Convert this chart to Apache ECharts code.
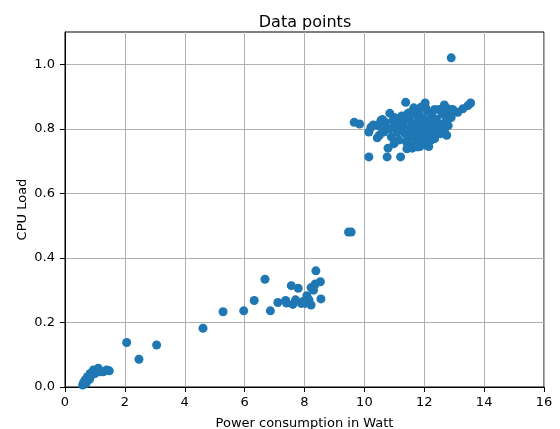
<!DOCTYPE html>
<html><head><meta charset="utf-8">
<script src="https://cdn.jsdelivr.net/npm/echarts@6/dist/echarts.min.js"></script>
<style>html,body{margin:0;padding:0;background:#fff}#c{width:560px;height:429px}</style>
</head><body><div id="c"></div>
<script>
const xTicks = [0, 2, 4, 6, 8, 10, 12, 14, 16];
const yTicks = [0.0, 0.2, 0.4, 0.6, 0.8, 1.0];
const lowCluster = [
  [0.59,0.006],[0.61,0.011],[0.67,0.022],[0.7,0.011],[0.72,0.017],[0.75,0.032],[0.78,0.028],
  [0.84,0.042],[0.88,0.036],[0.95,0.053],[1.0,0.042],[1.11,0.058],[1.17,0.047],[1.28,0.047],
  [1.39,0.053],[1.48,0.05],[0.64,0.016],[0.82,0.024],[2.06,0.138],[2.47,0.086],[3.06,0.13]
];
const midCluster = [
  [4.61,0.182],[5.28,0.233],[5.97,0.236],[6.32,0.268],[6.68,0.334],[6.86,0.236],
  [7.11,0.262],[7.37,0.268],[7.56,0.314],[7.79,0.306],[7.61,0.256],[7.89,0.259],
  [8.08,0.283],[8.22,0.308],[8.36,0.319],[8.38,0.36],[8.53,0.326],[8.55,0.273],
  [8.22,0.254],[8.02,0.259],[7.4,0.26],[8.3,0.3],[7.7,0.27],[8.15,0.27],[7.95,0.265],
  [9.47,0.48],[9.56,0.48]
];
const highCluster = [
  [12.9,1.02],[9.66,0.82],[9.84,0.815],[10.15,0.713],[10.76,0.713],[10.79,0.74],[11.21,0.713],
  [11.42,0.738],[11.38,0.882],[12.03,0.88],[12.67,0.874],[12.79,0.862],[13.55,0.88],[13.46,0.872],
  [13.29,0.862],[13.12,0.851],[10.85,0.848],[10.6,0.829],[10.22,0.805],[10.15,0.79],[10.43,0.772],
  [10.99,0.754],[10.3,0.812],[10.45,0.81],[10.55,0.825],[10.65,0.79],[10.7,0.82],[10.85,0.8],
  [10.9,0.775],[11.0,0.835],[11.05,0.81],[11.1,0.79],[11.15,0.765],[11.2,0.8],[11.3,0.82],
  [11.35,0.785],[11.4,0.76],[11.45,0.8],[11.5,0.83],[11.55,0.775],[11.6,0.81],[11.65,0.79],
  [11.7,0.845],[11.7,0.755],[11.75,0.82],[11.8,0.8],[11.8,0.77],[11.85,0.84],[11.9,0.79],
  [11.9,0.76],[11.95,0.81],[12.0,0.83],[12.0,0.775],[12.05,0.75],[12.1,0.8],[12.1,0.855],
  [12.15,0.82],[12.2,0.785],[12.2,0.765],[12.25,0.84],[12.3,0.81],[12.3,0.795],[12.35,0.77],
  [12.4,0.83],[12.45,0.8],[12.5,0.815],[12.55,0.785],[12.6,0.845],[12.65,0.8],[12.7,0.82],
  [12.8,0.81],[11.5,0.85],[11.25,0.84],[10.95,0.825],[11.6,0.74],[11.45,0.75],[11.85,0.745],
  [11.78,0.744],[12.22,0.764],[12.67,0.795],[11.44,0.846],[11.89,0.867],[12.22,0.851],
  [12.15,0.745],[10.5,0.78],[10.6,0.8],[12.5,0.86],[12.35,0.86],[11.65,0.865],[12.05,0.865],
  [12.9,0.835],[12.75,0.78],[11.75,0.79],[11.55,0.805],[11.35,0.805],[11.1,0.82],[12.0,0.8],
  [12.2,0.81],[11.9,0.82],[11.7,0.78],[12.4,0.79],[12.6,0.795],[12.0,0.76],[11.8,0.85],
  [12.85,0.85],[12.75,0.84],[12.95,0.86],[12.8,0.83]
];
const allPoints = lowCluster.concat(midCluster, highCluster);

const chart = echarts.init(document.getElementById('c'), null, {renderer: 'canvas'});
const font = 'DejaVu Sans';
chart.setOption({
  animation: false,
  title: {text: 'Data points', left: 300, top: 10, textAlign: 'center',
    textStyle: {fontFamily: font, fontSize: 16, fontWeight: 'normal', color: '#000'}},
  grid: {left: 65, right: 16, top: 32, bottom: 42, show: true, borderColor: '#000', borderWidth: 1,
    backgroundColor: 'transparent', containLabel: false, outerBoundsMode: 'none'},
  xAxis: {
    type: 'value', min: xTicks[0], max: xTicks[xTicks.length-1], interval: 2,
    name: 'Power consumption in Watt', nameLocation: 'middle', nameGap: 30, nameMoveOverlap: false,
    nameTextStyle: {fontFamily: font, fontSize: 13, color: '#000'},
    axisLine: {show: true, lineStyle: {color: '#000', width: 1}},
    axisTick: {show: true, inside: false, length: 5, lineStyle: {color: '#000', width: 1}},
    axisLabel: {fontFamily: font, fontSize: 13, color: '#000', margin: 9},
    splitLine: {show: true, lineStyle: {color: '#b0b0b0', width: 1}}
  },
  yAxis: {
    type: 'value', min: 0, max: 1.1, interval: 0.2,
    name: 'CPU Load', nameLocation: 'middle', nameGap: 36, nameMoveOverlap: false,
    nameTextStyle: {fontFamily: font, fontSize: 13, color: '#000'},
    axisLine: {show: true, lineStyle: {color: '#000', width: 1}},
    axisTick: {show: true, inside: false, length: 5, lineStyle: {color: '#000', width: 1}, customValues: yTicks},
    axisLabel: {fontFamily: font, fontSize: 13, color: '#000', margin: 10, customValues: yTicks,
      formatter: v => (v > 1.05 ? '' : v.toFixed(1))},
    splitLine: {show: true, lineStyle: {color: '#b0b0b0', width: 1}}
  },
  series: [{
    type: 'scatter', data: allPoints, symbolSize: 9,
    itemStyle: {color: '#1f77b4', opacity: 1}
  }]
});
</script></body></html>
